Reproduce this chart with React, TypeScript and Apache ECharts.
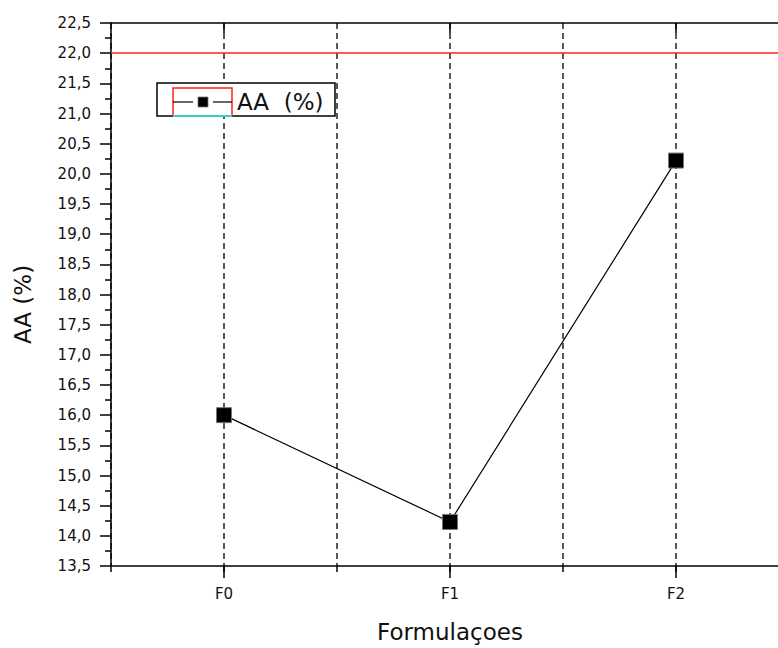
import React, { useEffect, useRef } from "react";
import * as echarts from "echarts";

const categories = ["F0", "F1", "F2"];
const aaValues = [16.0, 14.23, 20.22];
const referenceLine = 22.0;
const yMin = 13.5;
const yMax = 22.5;
const seriesName = "AA  (%)";

export default function App() {
  const ref = useRef<HTMLDivElement>(null);
  useEffect(() => {
    if (!ref.current) return;
    const chart = echarts.init(ref.current, undefined, { renderer: "svg" });
    const font = "DejaVu Sans";
    chart.setOption({
      animation: false,
      backgroundColor: "#ffffff",
      textStyle: { fontFamily: font, fontSize: 15, color: "#111" },
      grid: { left: 111, top: 23, bottom: 80, right: 0, containLabel: false },
      xAxis: [
        {
          type: "value",
          min: -0.5,
          max: 2.5,
          interval: 0.5,
          position: "bottom",
          axisLine: { show: true, onZero: false, lineStyle: { color: "#000", width: 1.5 } },
          axisTick: { show: true, length: 6, lineStyle: { color: "#000", width: 1.5 } },
          axisLabel: { show: false },
          splitLine: { show: true, lineStyle: { color: "#222", width: 1.5, type: [6, 4] } },
        },
        {
          type: "category",
          data: categories,
          boundaryGap: true,
          position: "bottom",
          name: "Formulaçoes",
          nameLocation: "middle",
          nameGap: 54,
          nameTextStyle: { fontFamily: font, fontSize: 23, color: "#111" },
          axisLine: { show: false },
          axisTick: { show: true, alignWithLabel: true, length: 12, lineStyle: { color: "#000", width: 1.5 } },
          axisLabel: { show: true, margin: 20, fontFamily: font, fontSize: 15, color: "#111" },
          splitLine: { show: false },
        },
        {
          type: "category",
          data: categories,
          boundaryGap: true,
          position: "top",
          axisLine: { show: true, lineStyle: { color: "#000", width: 1.5 } },
          axisTick: { show: true, inside: true, alignWithLabel: true, length: 10, lineStyle: { color: "#000", width: 1.5 } },
          axisLabel: { show: false },
          splitLine: { show: false },
        },
      ],
      yAxis: {
        type: "value",
        min: yMin,
        max: yMax,
        interval: 0.5,
        name: "AA (%)",
        nameLocation: "middle",
        nameGap: 77,
        nameRotate: 90,
        nameTextStyle: { fontFamily: font, fontSize: 23, color: "#111", padding: [0, 20, 0, 0] },
        axisLine: { show: true, onZero: false, lineStyle: { color: "#000", width: 1.5 } },
        axisTick: { show: true, length: 11, lineStyle: { color: "#000", width: 1.5 } },
        minorTick: { show: true, splitNumber: 2, length: 6, lineStyle: { color: "#000", width: 1.5 } },
        axisLabel: {
          margin: 20,
          fontFamily: font,
          fontSize: 15,
          color: "#111",
          formatter: (v: number) => v.toFixed(1).replace(".", ","),
        },
        splitLine: { show: false },
      },
      series: [
        {
          name: seriesName,
          type: "line",
          xAxisIndex: 1,
          data: aaValues,
          symbol: "rect",
          symbolSize: 15,
          lineStyle: { color: "#000", width: 1.2 },
          itemStyle: { color: "#000", borderColor: "#777", borderWidth: 1 },
          markLine: {
            silent: true,
            symbol: "none",
            label: { show: false },
            lineStyle: { color: "#ff2020", width: 1.5, type: "solid" },
            data: [{ yAxis: referenceLine }],
          },
        },
      ],
      graphic: [
        {
          type: "rect",
          shape: { x: 157, y: 83, width: 178, height: 33 },
          style: { fill: "#fff", stroke: "#000", lineWidth: 1.5 },
          z: 100,
        },
        {
          type: "polyline",
          shape: { points: [[173, 116], [173, 88], [232, 88], [232, 116]] },
          style: { fill: "none", stroke: "#ff2020", lineWidth: 1.5 },
          z: 101,
        },
        {
          type: "line",
          shape: { x1: 173, y1: 116, x2: 232, y2: 116 },
          style: { stroke: "#33ffff", lineWidth: 1.5 },
          z: 101,
        },
        {
          type: "line",
          shape: { x1: 173, y1: 102, x2: 193, y2: 102 },
          style: { stroke: "#000", lineWidth: 1.2 },
          z: 101,
        },
        {
          type: "line",
          shape: { x1: 213, y1: 102, x2: 232, y2: 102 },
          style: { stroke: "#000", lineWidth: 1.2 },
          z: 101,
        },
        {
          type: "rect",
          shape: { x: 198, y: 97, width: 10, height: 10 },
          style: { fill: "#000", stroke: "#777", lineWidth: 0.8 },
          z: 101,
        },
        {
          type: "text",
          x: 237,
          y: 102,
          style: {
            text: seriesName,
            fontFamily: font,
            fontSize: 23,
            fill: "#111",
            verticalAlign: "middle",
            align: "left",
          },
          z: 101,
        },
      ],
    });
    return () => chart.dispose();
  }, []);
  return (
    <div style={{ position: "absolute", left: 0, top: 0, width: 778, height: 648, overflow: "hidden" }}>
      <div ref={ref} style={{ width: 789, height: 648 }} />
    </div>
  );
}
